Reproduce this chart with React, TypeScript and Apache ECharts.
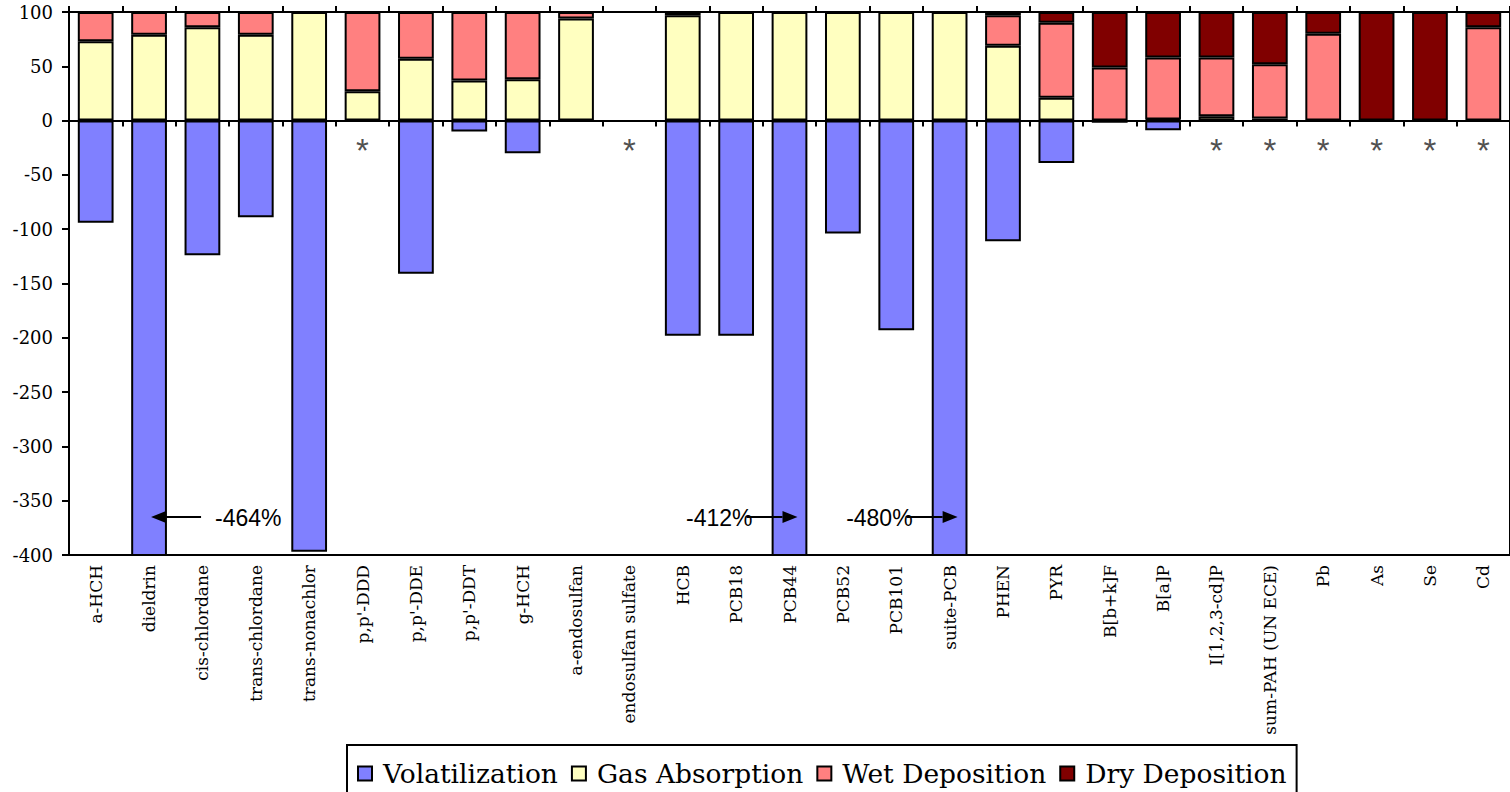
import React, { useEffect, useRef } from "react";
import * as echarts from "echarts";

const categories = [
  "a-HCH", "dieldrin", "cis-chlordane", "trans-chlordane", "trans-nonachlor",
  "p,p'-DDD", "p,p'-DDE", "p,p'-DDT", "g-HCH", "a-endosulfan", "endosulfan sulfate",
  "HCB", "PCB18", "PCB44", "PCB52", "PCB101", "suite-PCB", "PHEN", "PYR",
  "B[b+k]F", "B[a]P", "I[1,2,3-cd]P", "sum-PAH (UN ECE)", "Pb", "As", "Se", "Cd",
];

const volatilization = [
  -94, -464, -124, -89, -397, null, -141, -10, -30, null, null,
  -198, -198, -412, -104, -193, -480, -111, -39,
  -2, -9, null, null, null, null, null, null,
];
const gasAbsorption = [
  73, 79, 86, 79, 100, 27, 57, 37, 38, 94, null,
  97, 100, 100, 100, 100, 100, 69, 21,
  null, 1, 4, 2, null, null, null, null,
];
const wetDeposition = [
  27, 21, 14, 21, null, 73, 43, 63, 62, 6, null,
  3, null, null, null, null, null, 28, 69,
  49, 57, 54, 50, 80, null, null, 86,
];
const dryDeposition = [
  null, null, null, null, null, null, null, null, null, null, null,
  null, null, null, null, null, null, 3, 10,
  51, 42, 42, 48, 20, 100, 100, 14,
];

// categories with no data (marked by an asterisk)
const asteriskCategories = [
  "p,p'-DDD", "endosulfan sulfate", "I[1,2,3-cd]P", "sum-PAH (UN ECE)", "Pb", "As", "Se", "Cd",
];
const asteriskValue = -22;

// off-scale volatilization values annotated with arrows
const offScale = [
  { category: "dieldrin", side: "right" },
  { category: "PCB44", side: "left" },
  { category: "suite-PCB", side: "left" },
];
const arrowValue = -365;

const seriesNames = ["Volatilization", "Gas Absorption", "Wet Deposition", "Dry Deposition"];
const seriesColors = ["#8080FF", "#FFFFC0", "#FF8080", "#800000"];
const seriesData = [volatilization, gasAbsorption, wetDeposition, dryDeposition];

const SERIF = "DejaVu Serif";
const SANS = "Liberation Sans";

export default function App() {
  const ref = useRef<HTMLDivElement>(null);

  useEffect(() => {
    if (!ref.current) return;
    const chart = echarts.init(ref.current, null, { renderer: "svg" });
    const black = "#000";
    const option: any = {
      animation: false,
      backgroundColor: "#fff",
      grid: {
        left: 69, top: 12, width: 1448, height: 543,
        show: true, borderColor: black, borderWidth: 2, backgroundColor: "transparent",
      },
      legend: {
        data: seriesNames,
        left: 347, top: 745,
        itemWidth: 14, itemHeight: 14, itemGap: 13,
        icon: "rect",
        borderColor: black, borderWidth: 2,
        padding: [15, 10, 20, 10],
        textStyle: { fontFamily: SERIF, fontSize: 26.5, color: black, padding: [0, 0, 0, 6] },
      },
      xAxis: [
        {
          type: "category", data: categories, position: "bottom",
          axisLine: { onZero: false, lineStyle: { color: black, width: 2 } },
          axisTick: { show: false },
          axisLabel: {
            rotate: 90, interval: 0, margin: 10, color: black,
            fontFamily: SERIF, fontSize: 17,
          },
          splitLine: { show: false },
        },
        {
          type: "category", data: categories, position: "bottom",
          axisLine: { onZero: true, lineStyle: { color: black, width: 2 } },
          axisTick: { show: true, interval: 0, length: 6, lineStyle: { color: black, width: 2 } },
          axisLabel: { show: false },
          splitLine: { show: false },
        },
        {
          type: "category", data: categories, position: "top",
          axisLine: { onZero: true, lineStyle: { color: black, width: 2 } },
          axisTick: { show: true, interval: 0, length: 6, lineStyle: { color: black, width: 2 } },
          axisLabel: { show: false },
          splitLine: { show: false },
        },
      ],
      yAxis: {
        type: "value", min: -400, max: 100, interval: 50,
        axisLine: { show: true, lineStyle: { color: black, width: 2 } },
        axisTick: { show: true, length: 7, lineStyle: { color: black, width: 2 } },
        axisLabel: { color: black, fontFamily: SERIF, fontSize: 18, margin: 16 },
        splitLine: { show: false },
      },
      series: [
        ...seriesNames.map((name, i) => ({
          name, type: "bar", stack: "total", xAxisIndex: 0, barWidth: "67%",
          data: seriesData[i],
          itemStyle: { color: seriesColors[i], borderColor: black, borderWidth: 2 },
          emphasis: { disabled: true },
        })),
        {
          name: "asterisk", type: "scatter", xAxisIndex: 0, silent: true,
          symbolSize: 1, itemStyle: { color: "rgba(0,0,0,0)" },
          data: asteriskCategories.map((c) => [c, asteriskValue]),
          label: {
            show: true, formatter: "*", position: "inside", offset: [0, 6],
            fontFamily: SANS, fontSize: 33, color: "#222",
          },
        },
      ],
    };
    chart.setOption(option);

    const graphics: any[] = [];
    offScale.forEach((a) => {
      const idx = categories.indexOf(a.category);
      const value = volatilization[idx];
      const p = chart.convertToPixel({ xAxisIndex: 0, yAxisIndex: 0 }, [idx, arrowValue]) as number[];
      const cx = p[0];
      const y = p[1];
      let tip: number, tail: number, dir: number;
      const textStyle = { fontFamily: SANS, fontSize: 23, fill: black, verticalAlign: "middle" };
      if (a.side === "right") {
        tip = cx + 2; tail = cx + 52; dir = -1;
        graphics.push({
          type: "text", x: cx + 66, y: y + 1,
          style: { ...textStyle, text: `${value}%`, align: "left" },
        });
      } else {
        tip = cx + 8; tail = cx - 43; dir = 1;
        graphics.push({
          type: "text", x: cx - 37, y: y + 1,
          style: { ...textStyle, text: `${value}%`, align: "right" },
        });
      }
      const base = tip - dir * 15;
      graphics.push({
        type: "line", shape: { x1: tail, y1: y, x2: base, y2: y },
        style: { stroke: black, lineWidth: 2 }, z: 100,
      });
      graphics.push({
        type: "polygon", shape: { points: [[tip, y], [base, y - 6], [base, y + 6]] },
        style: { fill: black }, z: 100,
      });
    });
    chart.setOption({ graphic: graphics });

    return () => chart.dispose();
  }, []);

  return (
    <div
      ref={ref}
      style={{ position: "fixed", left: 0, top: 0, width: 1510, height: 792, background: "#fff" }}
    />
  );
}
